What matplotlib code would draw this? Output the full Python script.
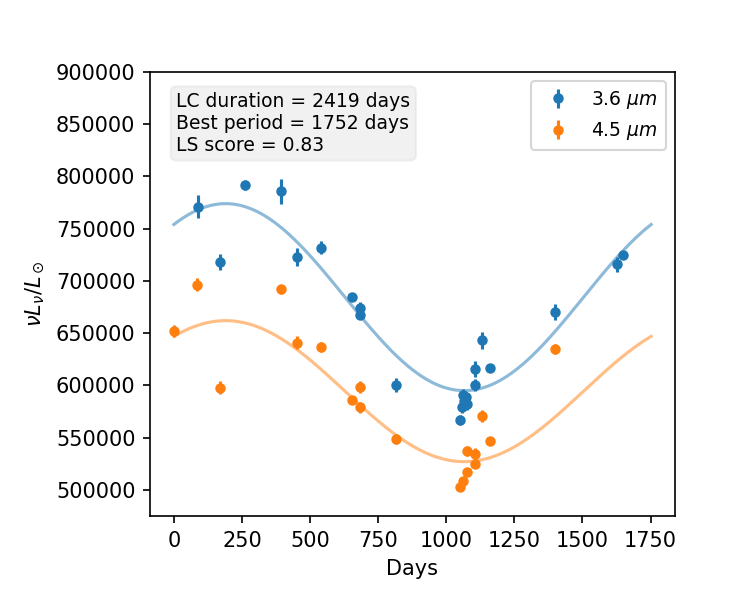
import numpy as np
import matplotlib.pyplot as plt

# 3.6 micron light curve
days_36 = [87, 168, 261, 392, 451, 539, 654, 684, 684, 814,
           1049, 1056, 1060, 1066, 1072, 1076, 1104, 1104, 1132, 1161,
           1398, 1625, 1647]
lum_36 = [771000, 718000, 792000, 786000, 723000, 732000, 684500, 674000, 667500, 600500,
          567000, 579000, 590500, 585000, 589000, 582500, 616000, 600500, 643000, 616500,
          670000, 716000, 725000]
err_36 = [11000, 7500, 5000, 12000, 8500, 6500, 3500, 6000, 4000, 7000,
          5000, 5000, 6000, 5000, 5000, 6000, 7500, 6000, 8500, 3000,
          7500, 7000, 4000]

# 4.5 micron light curve
days_45 = [1, 86, 168, 392, 451, 539, 654, 684, 684, 814,
           1051, 1061, 1076, 1076, 1104, 1104, 1132, 1159, 1398]
lum_45 = [652000, 696500, 598000, 692000, 641000, 637000, 586000, 598500, 579000, 548500,
          503000, 508500, 537000, 517000, 534500, 524500, 570500, 547000, 635000]
err_45 = [6000, 6000, 6000, 4500, 6000, 5000, 3000, 6000, 5000, 5000,
          4000, 4000, 5000, 3000, 6000, 4000, 5500, 4000, 5000]

# Lomb-Scargle best-fit sinusoids
best_period = 1752
lc_duration = 2419
ls_score = 0.83
mean_36, amp_36 = 684500, 89500
mean_45, amp_45 = 594500, 67500
peak_day = 190

fig, ax = plt.subplots(figsize=(5, 4), dpi=150)
fig.subplots_adjust(left=0.2, bottom=0.14)

ax.errorbar(days_36, lum_36, yerr=err_36, fmt='o', ms=4, color='C0', label=r'3.6 $\mu m$')
ax.errorbar(days_45, lum_45, yerr=err_45, fmt='o', ms=4, color='C1', label=r'4.5 $\mu m$')

t = np.linspace(0, best_period, 500)
ax.plot(t, mean_36 + amp_36 * np.cos(2 * np.pi * (t - peak_day) / best_period), color='C0', alpha=0.5)
ax.plot(t, mean_45 + amp_45 * np.cos(2 * np.pi * (t - peak_day) / best_period), color='C1', alpha=0.5)

txt = 'LC duration = %d days\nBest period = %d days\nLS score = %.2f' % (lc_duration, best_period, ls_score)
ax.text(0.05, 0.955, txt, transform=ax.transAxes, va='top', fontsize=9,
        bbox=dict(boxstyle='round', facecolor='lightgrey', edgecolor='lightgrey', alpha=0.3))

ax.set_ylim(475000, 900000)
ax.set_xlabel('Days')
ax.set_ylabel(r'$\nu L_\nu/L_\odot$')
ax.legend(loc='upper right', fontsize=9)

fig.savefig('out.png', dpi=150)
